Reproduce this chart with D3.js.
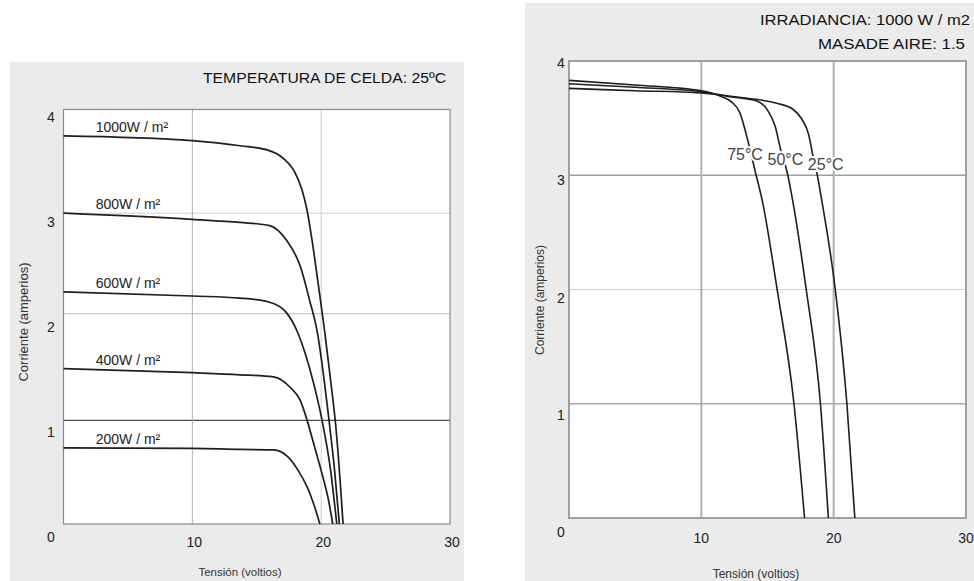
<!DOCTYPE html>
<html>
<head>
<meta charset="utf-8">
<script src="https://cdn.jsdelivr.net/npm/d3@7"></script>
<style>
  html, body { margin: 0; padding: 0; background: #ffffff; }
  svg { display: block; font-family: "Liberation Sans", Arial, Helvetica, sans-serif; }
</style>
</head>
<body>
<svg id="chart" width="974" height="581"></svg>
<script>
// ---------------- DATA ----------------
// Left chart: I-V curves for different irradiances at 25 ºC (V in volts, I in amperes)
const irradianceLabels = ["1000W / m²", "800W / m²", "600W / m²", "400W / m²", "200W / m²"];
const curve1000V = [0, 10, 13.7, 15.8, 17.04, 17.97, 18.52, 18.9, 19.29, 19.8, 20.26, 20.73, 21.16, 21.47, 21.7];
const curve1000I = [3.745, 3.70, 3.65, 3.61, 3.53, 3.39, 3.22, 3.03, 2.74, 2.29, 1.87, 1.39, 0.91, 0.42, 0];
const curve800V  = [0, 10, 13.7, 16.0, 17.3, 18.4, 19.1, 19.72, 20.03, 20.61, 21.04, 21.41];
const curve800I  = [3.0, 2.94, 2.91, 2.88, 2.74, 2.48, 2.16, 1.84, 1.58, 1.0, 0.52, 0];
const curve600V  = [0, 10, 13.7, 16.0, 17.3, 18.1, 18.75, 19.45, 20.07, 20.73, 21.21];
const curve600I  = [2.24, 2.20, 2.18, 2.14, 2.04, 1.87, 1.65, 1.34, 1.0, 0.52, 0];
const curve400V  = [0, 10, 13.7, 16.3, 17.59, 18.36, 18.91, 19.41, 19.99, 20.57, 20.9];
const curve400I  = [1.50, 1.46, 1.44, 1.42, 1.32, 1.197, 1.0, 0.78, 0.52, 0.23, 0];
const curve200V  = [0, 10, 13.7, 16.3, 17.4, 18.2, 18.9, 19.4, 19.9];
const curve200I  = [0.735, 0.73, 0.72, 0.715, 0.65, 0.52, 0.36, 0.20, 0];

// Right chart: I-V curves at 1000 W/m2 for different cell temperatures
const temperatureLabels = ["75°C", "50°C", "25°C"];
const curve75V = [0, 5, 10, 11.5, 12.3, 12.9, 13.5, 14.1, 14.6, 15.7, 17.0, 17.8];
const curve75I = [3.83, 3.79, 3.74, 3.69, 3.64, 3.55, 3.31, 3.02, 2.78, 2.02, 1.0, 0];
const curve50V = [0, 5, 10, 12, 14.2, 15.0, 15.6, 16.0, 16.5, 16.9, 17.9, 19.0, 19.6];
const curve50I = [3.80, 3.77, 3.73, 3.69, 3.65, 3.57, 3.42, 3.22, 3.02, 2.78, 2.02, 1.0, 0];
const curve25V = [0, 5, 10, 13, 15.7, 16.9, 17.6, 18.1, 18.4, 18.8, 19.1, 20.1, 21.0, 21.6];
const curve25I = [3.76, 3.74, 3.72, 3.68, 3.63, 3.58, 3.49, 3.36, 3.19, 2.98, 2.78, 2.02, 1.0, 0];

// Ticks and texts
const xTickValues = [10, 20, 30];
const yTickValues = [0, 1, 2, 3, 4];
const xAxisTitle = "Tensión (voltios)";
const yAxisTitle = "Corriente (amperios)";
const leftTitle = "TEMPERATURA DE CELDA: 25ºC";
const rightTitle1 = "IRRADIANCIA: 1000 W / m2";
const rightTitle2 = "MASADE AIRE: 1.5";

// ---------------- DRAWING ----------------
const svg = d3.select("#chart");
const zip = (vs, is) => vs.map((v, k) => [v, is[k]]);

// panels
svg.append("rect").attr("x", 10).attr("y", 62).attr("width", 454).attr("height", 519).attr("fill", "#ebebeb");
svg.append("rect").attr("x", 525).attr("y", 3).attr("width", 449).attr("height", 578).attr("fill", "#ebebeb");

// ---- LEFT CHART ----
const lx = d3.scaleLinear().domain([0, 30]).range([63.5, 450]);
const ly = d3.scaleLinear().domain([0, 4]).range([524, 109.5]);
const lyLabel = d3.scaleLinear().domain([0, 4]).range([542, 122]);
const L = svg.append("g");
L.append("rect").attr("x", lx(0)).attr("y", ly(4)).attr("width", lx(30) - lx(0)).attr("height", ly(0) - ly(4))
  .attr("fill", "#fff");
const lGridH = { 1: ["#4a4a4a", 1.3], 2: ["#b8b8b8", 1], 3: ["#d0d0d0", 1] };
[1, 2, 3].forEach(v => {
  L.append("line").attr("x1", lx(0)).attr("x2", lx(30)).attr("y1", ly(v) - (v === 2 ? 3 : 0)).attr("y2", ly(v) - (v === 2 ? 3 : 0))
    .attr("stroke", lGridH[v][0]).attr("stroke-width", lGridH[v][1]);
});
const lGridV = { 10: "#b0b0b0", 20: "#d0d0d0" };
[10, 20].forEach(v => {
  L.append("line").attr("x1", lx(v)).attr("x2", lx(v)).attr("y1", ly(0)).attr("y2", ly(4))
    .attr("stroke", lGridV[v]).attr("stroke-width", 1);
});
L.append("rect").attr("x", lx(0)).attr("y", ly(4)).attr("width", lx(30) - lx(0)).attr("height", ly(0) - ly(4))
  .attr("fill", "none").attr("stroke", "#8a8a8a").attr("stroke-width", 1.2);

const leftCurves = [zip(curve1000V, curve1000I), zip(curve800V, curve800I), zip(curve600V, curve600I),
                    zip(curve400V, curve400I), zip(curve200V, curve200I)];
const lLine = d3.line().x(d => lx(d[0])).y(d => ly(d[1])).curve(d3.curveMonotoneX);
L.selectAll("path.curve").data(leftCurves).join("path").attr("class", "curve")
  .attr("d", lLine).attr("fill", "none").attr("stroke", "#1e1e1e").attr("stroke-width", 1.7);

L.selectAll("text.irr").data(leftCurves).join("text").attr("class", "irr")
  .attr("x", lx(2.5)).attr("y", d => ly(d[0][1]) - 4)
  .attr("font-size", 14).attr("fill", "#222")
  .text((d, k) => irradianceLabels[k]);

L.selectAll("text.xt").data(xTickValues).join("text").attr("class", "xt")
  .attr("x", d => lx(d) + 2).attr("y", 547).attr("text-anchor", "middle")
  .attr("font-size", 14).attr("fill", "#222").text(d => d);
L.selectAll("text.yt").data(yTickValues).join("text").attr("class", "yt")
  .attr("x", 51).attr("y", d => lyLabel(d)).attr("text-anchor", "middle")
  .attr("font-size", 14).attr("fill", "#222").text(d => d);

L.append("text").attr("x", 446).attr("y", 83).attr("text-anchor", "end")
  .attr("font-size", 15).attr("fill", "#111").attr("textLength", 243).attr("lengthAdjust", "spacingAndGlyphs")
  .text(leftTitle);
L.append("text").attr("x", 240).attr("y", 576).attr("text-anchor", "middle")
  .attr("font-size", 11.5).attr("fill", "#333").text(xAxisTitle);
L.append("text").attr("transform", "translate(28,322) rotate(-90)").attr("text-anchor", "middle")
  .attr("font-size", 12).attr("fill", "#333").attr("textLength", 119).attr("lengthAdjust", "spacingAndGlyphs")
  .text(yAxisTitle);

// ---- RIGHT CHART ----
const rx = d3.scaleLinear().domain([0, 30]).range([569, 966]);
const ry = d3.scaleLinear().domain([0, 4]).range([518, 61]);
const ryLabel = d3.scaleLinear().domain([0, 4]).range([537, 68]);
const R = svg.append("g");
R.append("rect").attr("x", rx(0)).attr("y", ry(4)).attr("width", rx(30) - rx(0)).attr("height", ry(0) - ry(4))
  .attr("fill", "#fff");
const rGridH = { 1: ["#a8a8a8", 1.6], 2: ["#cfcfcf", 1.2], 3: ["#a0a0a0", 1.6] };
[1, 2, 3].forEach(v => {
  R.append("line").attr("x1", rx(0)).attr("x2", rx(30)).attr("y1", ry(v)).attr("y2", ry(v))
    .attr("stroke", rGridH[v][0]).attr("stroke-width", rGridH[v][1]);
});
[10, 20].forEach(v => {
  R.append("line").attr("x1", rx(v)).attr("x2", rx(v)).attr("y1", ry(0)).attr("y2", ry(4))
    .attr("stroke", "#b0b0b0").attr("stroke-width", 2);
});
R.append("rect").attr("x", rx(0)).attr("y", ry(4)).attr("width", rx(30) - rx(0)).attr("height", ry(0) - ry(4))
  .attr("fill", "none").attr("stroke", "#a0a0a0").attr("stroke-width", 2);

const rightCurves = [zip(curve75V, curve75I), zip(curve50V, curve50I), zip(curve25V, curve25I)];
const rLine = d3.line().x(d => rx(d[0])).y(d => ry(d[1])).curve(d3.curveMonotoneX);
R.selectAll("path.curve").data(rightCurves).join("path").attr("class", "curve")
  .attr("d", rLine).attr("fill", "none").attr("stroke", "#1e1e1e").attr("stroke-width", 1.6);

// temperature labels placed over the curves (layout positions, in data units)
const tLabelPos = [[13.3, 3.13], [16.35, 3.09], [19.4, 3.05]];
R.selectAll("text.temp").data(temperatureLabels).join("text").attr("class", "temp")
  .attr("x", (d, k) => rx(tLabelPos[k][0])).attr("y", (d, k) => ry(tLabelPos[k][1]))
  .attr("text-anchor", "middle").attr("font-size", 16).attr("fill", "#444")
  .attr("stroke", "#fff").attr("stroke-width", 4).attr("paint-order", "stroke")
  .text(d => d);

R.selectAll("text.xt").data(xTickValues).join("text").attr("class", "xt")
  .attr("x", d => rx(d)).attr("y", 543).attr("text-anchor", "middle")
  .attr("font-size", 14).attr("fill", "#222").text(d => d);
R.selectAll("text.yt").data(yTickValues).join("text").attr("class", "yt")
  .attr("x", 561).attr("y", d => ryLabel(d)).attr("text-anchor", "middle")
  .attr("font-size", 14).attr("fill", "#222").text(d => d);

R.append("text").attr("x", 970).attr("y", 25).attr("text-anchor", "end")
  .attr("font-size", 14).attr("fill", "#111").attr("textLength", 210).attr("lengthAdjust", "spacingAndGlyphs")
  .text(rightTitle1);
R.append("text").attr("x", 965).attr("y", 49).attr("text-anchor", "end")
  .attr("font-size", 14).attr("fill", "#111").attr("textLength", 147).attr("lengthAdjust", "spacingAndGlyphs")
  .text(rightTitle2);
R.append("text").attr("x", 756).attr("y", 578).attr("text-anchor", "middle")
  .attr("font-size", 12).attr("fill", "#333").text(xAxisTitle);
R.append("text").attr("transform", "translate(544,300) rotate(-90)").attr("text-anchor", "middle")
  .attr("font-size", 12).attr("fill", "#333").text(yAxisTitle);
</script>
</body>
</html>
